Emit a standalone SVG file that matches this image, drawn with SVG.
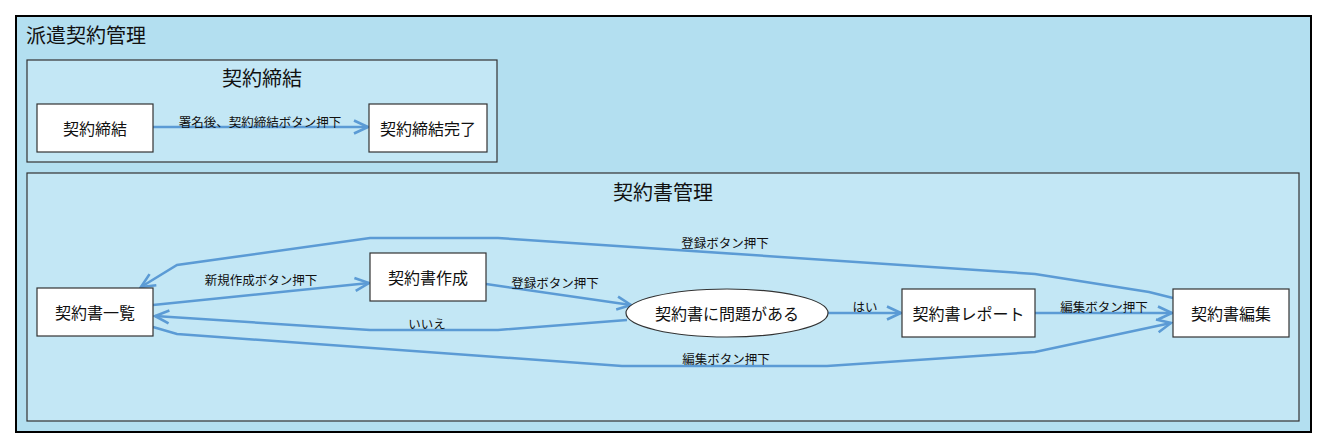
<svg xmlns="http://www.w3.org/2000/svg" width="1327" height="448" viewBox="0 0 1327 448">
<defs>
<marker id="arr" markerUnits="userSpaceOnUse" viewBox="0 0 18 16" markerWidth="18" markerHeight="16" refX="16" refY="8" orient="auto">
<path d="M2,1.5 L16,8 L2,14.5" fill="none" stroke="#5b9bd5" stroke-width="2.6" stroke-linejoin="miter"/>
</marker>
<style>
text{font-family:"Noto Sans CJK JP","Noto Sans",sans-serif;fill:#111;}
.outer{fill:#b3dff0;stroke:#000;stroke-width:2;}
.grp{fill:#c3e7f5;stroke:#333;stroke-width:1.2;}
.node{fill:#fff;stroke:#333;stroke-width:1.2;}
.nt{font-size:16px;text-anchor:middle;dominant-baseline:central;}
.gt{font-size:20px;text-anchor:middle;dominant-baseline:central;}
.el{font-size:12.5px;text-anchor:middle;dominant-baseline:central;}
.edge{fill:none;stroke:#5b9bd5;stroke-width:2.5;marker-end:url(#arr);}
</style>
</defs>
<g id="haken">
<rect class="outer" x="16" y="16" width="1295" height="416"/>
<text x="26" y="34" style="font-size:20px;dominant-baseline:central">派遣契約管理</text>
</g>
<g id="teiketsu-group">
<rect class="grp" x="27" y="60" width="470" height="102"/>
<text class="gt" x="262" y="77">契約締結</text>
</g>
<g id="kanri-group">
<rect class="grp" x="27" y="173" width="1272" height="248"/>
<text class="gt" x="663" y="191">契約書管理</text>
</g>
<g id="connectors">
<path class="edge" d="M153,127 L368,127"/>
<path class="edge" d="M153,305 L369,283"/>
<path class="edge" d="M486,284 L631,305"/>
<path class="edge" d="M627,320 L498,330 L370,330 L155,316"/>
<path class="edge" d="M828,313 L901,313"/>
<path class="edge" d="M1035,313 L1172,313"/>
<path class="edge" d="M1173,298 L1149,292 L1035,274 L498,238 L370,238 L177,265 L141,287"/>
<path class="edge" d="M153,327 L177,334 L622,366 L827,366 L1035,352 L1171,323"/>
<text class="el" x="260" y="121">署名後、契約締結ボタン押下</text>
<text class="el" x="261" y="279">新規作成ボタン押下</text>
<text class="el" x="555" y="282">登録ボタン押下</text>
<text class="el" x="427" y="323">いいえ</text>
<text class="el" x="865" y="306">はい</text>
<text class="el" x="1104" y="306">編集ボタン押下</text>
<text class="el" x="725" y="242">登録ボタン押下</text>
<text class="el" x="726" y="358">編集ボタン押下</text>
</g>
<g id="n-teiketsu">
<rect class="node" x="37" y="104" width="116" height="48"/>
<text class="nt" x="95" y="128">契約締結</text>
</g>
<g id="n-teiketsu-kanryo">
<rect class="node" x="369" y="104" width="118" height="48"/>
<text class="nt" x="428" y="128">契約締結完了</text>
</g>
<g id="n-ichiran">
<rect class="node" x="37" y="288" width="116" height="48"/>
<text class="nt" x="95" y="312">契約書一覧</text>
</g>
<g id="n-sakusei">
<rect class="node" x="370" y="253" width="116" height="48"/>
<text class="nt" x="428" y="277">契約書作成</text>
</g>
<g id="n-mondai">
<ellipse class="node" cx="727" cy="313" rx="101" ry="24"/>
<text class="nt" x="727" y="313">契約書に問題がある</text>
</g>
<g id="n-report">
<rect class="node" x="902" y="289" width="133" height="48"/>
<text class="nt" x="968.5" y="313">契約書レポート</text>
</g>
<g id="n-henshu">
<rect class="node" x="1173" y="289" width="116" height="48"/>
<text class="nt" x="1231" y="313">契約書編集</text>
</g>
</svg>
